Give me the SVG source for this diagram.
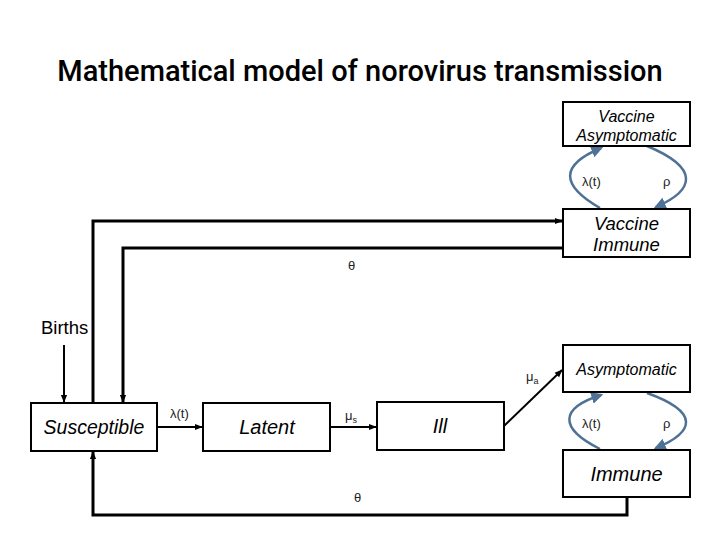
<svg xmlns="http://www.w3.org/2000/svg" width="720" height="540" viewBox="0 0 720 540">
<defs>
<style>
.box{fill:#fff;stroke:#000;stroke-width:2}
.nt{font-family:"Liberation Sans",Arial,sans-serif;font-style:italic;text-anchor:middle}
.lb{font-family:"Liberation Sans",Arial,sans-serif;font-size:13px;fill:#222}
.ln{fill:none;stroke:#000;stroke-width:3}
.ar{fill:none;stroke:#000;stroke-width:2}
.cv{fill:none;stroke:#4f7196;stroke-width:2.5}
</style>
<marker id="ah" viewBox="0 0 10 10" refX="9" refY="5" markerWidth="8" markerHeight="8" orient="auto" markerUnits="userSpaceOnUse">
<path d="M0,1 L10,5 L0,9 z" fill="#000"/>
</marker>
<marker id="ab" viewBox="0 0 10 10" refX="8" refY="5" markerWidth="12" markerHeight="12" orient="auto" markerUnits="userSpaceOnUse">
<path d="M0,0 L10,5 L0,10 z" fill="#4f7196"/>
</marker>
</defs>
<rect width="720" height="540" fill="#fff"/>
<text x="360" y="81" font-family="Roboto,'Open Sans',sans-serif" font-size="29" font-weight="500" text-anchor="middle" fill="#000">Mathematical model of norovirus transmission</text>

<g id="connectors">
<path class="ln" d="M93,403 V221 H562" marker-end="url(#ah)"/>
<path class="ln" d="M563,248 H123 V402" marker-end="url(#ah)"/>
<path class="ln" d="M627,497 V515 H93 V452" marker-end="url(#ah)"/>
<path class="ar" d="M64,345 V402" marker-end="url(#ah)"/>
<path class="ar" d="M157,427 H202" marker-end="url(#ah)"/>
<path class="ar" d="M330,427 H376" marker-end="url(#ah)"/>
<path class="ar" d="M504,426 L562,370" marker-end="url(#ah)"/>
<path class="cv" d="M600,208 C560,185 560,165 601,148" marker-end="url(#ab)"/>
<path class="cv" d="M647,146 C700,168 695,190 656,207" marker-end="url(#ab)"/>
<path class="cv" d="M600,449 C558,428 560,408 601,395" marker-end="url(#ab)"/>
<path class="cv" d="M647,393 C700,412 695,432 656,448" marker-end="url(#ab)"/>
</g>

<g id="labels">
<text class="lb" x="582" y="186">λ(t)</text>
<text class="lb" x="663" y="186">ρ</text>
<text class="lb" x="582" y="428">λ(t)</text>
<text class="lb" x="663" y="428">ρ</text>
<text class="lb" x="348" y="270">θ</text>
<text class="lb" x="354" y="502">θ</text>
<text class="lb" x="170" y="418">λ(t)</text>
<text class="lb" x="345" y="420">μ<tspan font-size="9" dy="3">s</tspan></text>
<text class="lb" x="526" y="381">μ<tspan font-size="9" dy="3">a</tspan></text>
<text x="41" y="334" font-family="'Liberation Sans',Arial,sans-serif" font-size="18.5" fill="#000">Births</text>
</g>

<g id="vaccine-asymptomatic">
<rect class="box" x="563" y="102" width="127" height="44"/>
<text class="nt" x="626.5" y="122" font-size="16">Vaccine</text>
<text class="nt" x="626.5" y="141" font-size="16">Asymptomatic</text>
</g>
<g id="vaccine-immune">
<rect class="box" x="563" y="209" width="127" height="48"/>
<text class="nt" x="626.5" y="230" font-size="18.5">Vaccine</text>
<text class="nt" x="626.5" y="251" font-size="18.5">Immune</text>
</g>
<g id="susceptible">
<rect class="box" x="31" y="403" width="126" height="48"/>
<text class="nt" x="94" y="434" font-size="19.5">Susceptible</text>
</g>
<g id="latent">
<rect class="box" x="203" y="403" width="127" height="48"/>
<text class="nt" x="267" y="434" font-size="20">Latent</text>
</g>
<g id="ill">
<rect class="box" x="377" y="402" width="127" height="48"/>
<text class="nt" x="440" y="433" font-size="20">Ill</text>
</g>
<g id="asymptomatic">
<rect class="box" x="563" y="345" width="127" height="47"/>
<text class="nt" x="626.5" y="375" font-size="16">Asymptomatic</text>
</g>
<g id="immune">
<rect class="box" x="563" y="450" width="127" height="47"/>
<text class="nt" x="626.5" y="481" font-size="20">Immune</text>
</g>
</svg>
